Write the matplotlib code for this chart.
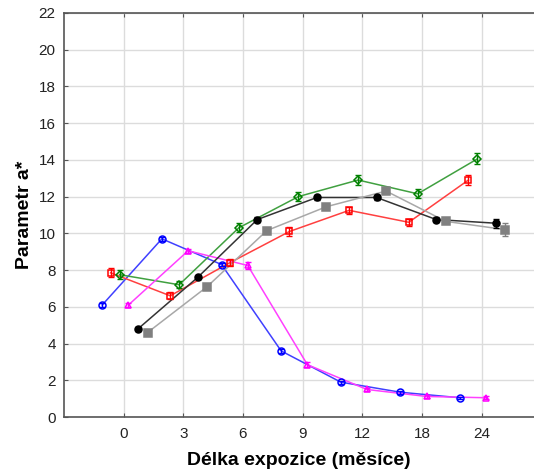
import matplotlib
matplotlib.use("Agg")
import matplotlib.pyplot as plt
import numpy as np

plt.rcParams['font.family'] = ['Liberation Sans', 'DejaVu Sans']

months = ["0", "3", "6", "9", "12", "18", "24"]

blue = [6.1, 9.7, 8.3, 3.6, 1.9, 1.35, 1.05]
blue_err = [0.1, 0.12, 0.1, 0.1, 0.08, 0.08, 0.06]
red = [7.85, 6.6, 8.4, 10.1, 11.25, 10.6, 12.9]
red_err = [0.25, 0.2, 0.2, 0.25, 0.2, 0.2, 0.25]
green = [7.75, 7.2, 10.3, 12.0, 12.9, 12.15, 14.05]
green_err = [0.25, 0.2, 0.25, 0.25, 0.25, 0.25, 0.3]
magenta = [6.1, 9.05, 8.25, 2.85, 1.5, 1.12, 1.05]
magenta_err = [0.12, 0.12, 0.2, 0.15, 0.1, 0.08, 0.08]
black = [4.8, 7.6, 10.75, 11.95, 11.95, 10.75, 10.55]
black_err = [0.1, 0.1, 0.12, 0.12, 0.15, 0.15, 0.25]
gray = [4.6, 7.1, 10.15, 11.45, 12.3, 10.65, 10.2]
gray_err = [0.05, 0.05, 0.05, 0.05, 0.05, 0.05, 0.35]

fig = plt.figure(figsize=(5.34, 4.75), dpi=100)
ax = fig.add_axes([0.12, 0.122, 0.88, 0.851])

idx = np.arange(len(months))

series = [
    (blue, blue_err, -0.36, '#0000ff', '#4040ff', 'o', 'none', 5),
    (red, red_err, -0.22, '#ff0000', '#ff4040', 's', 'none', 5),
    (green, green_err, -0.07, '#008000', '#40a040', 'D', 'none', 4.5),
    (magenta, magenta_err, 0.08, '#ff00ff', '#ff40ff', '^', 'none', 5),
    (black, black_err, 0.24, '#000000', '#333333', 'o', '#000000', 5),
    (gray, gray_err, 0.40, '#808080', '#a8a8a8', 's', '#808080', 5.5),
]

for vals, err, off, mc, lc, mk, fc, ms in series:
    x = idx + off
    ax.plot(x, vals, color=lc, lw=1.1, zorder=2)
    ax.errorbar(x, vals, yerr=err, fmt='none', ecolor=mc, elinewidth=1.0,
                capsize=2.5, capthick=1.0, zorder=3)
    ax.plot(x, vals, linestyle='none', marker=mk, markersize=ms,
            markerfacecolor=fc, markeredgecolor=mc, markeredgewidth=1.1, zorder=4)

ax.set_xlim(-1, 6.88)
ax.set_ylim(0, 22)
ax.set_xticks(idx)
ax.set_xticklabels(months)
ax.set_yticks(np.arange(0, 23, 2))
ax.grid(True, color='#dcdcdc', lw=1.0, zorder=0)
ax.set_axisbelow(True)
for s in ['left', 'bottom', 'top']:
    ax.spines[s].set_color('#555555')
    ax.spines[s].set_linewidth(1.2)
ax.spines['right'].set_visible(False)
ax.tick_params(direction='in', length=3, color='#555555', labelsize=11,
               labelcolor='#222222', top=True)
ax.tick_params(axis='x', pad=7)
ax.tick_params(axis='y', pad=6)

ax.set_xlabel('Délka expozice (měsíce)', fontsize=14, fontweight='bold', labelpad=8)
ax.set_ylabel('Parametr a*', fontsize=14, fontweight='bold', labelpad=4)

fig.savefig('out.png', dpi=100)
